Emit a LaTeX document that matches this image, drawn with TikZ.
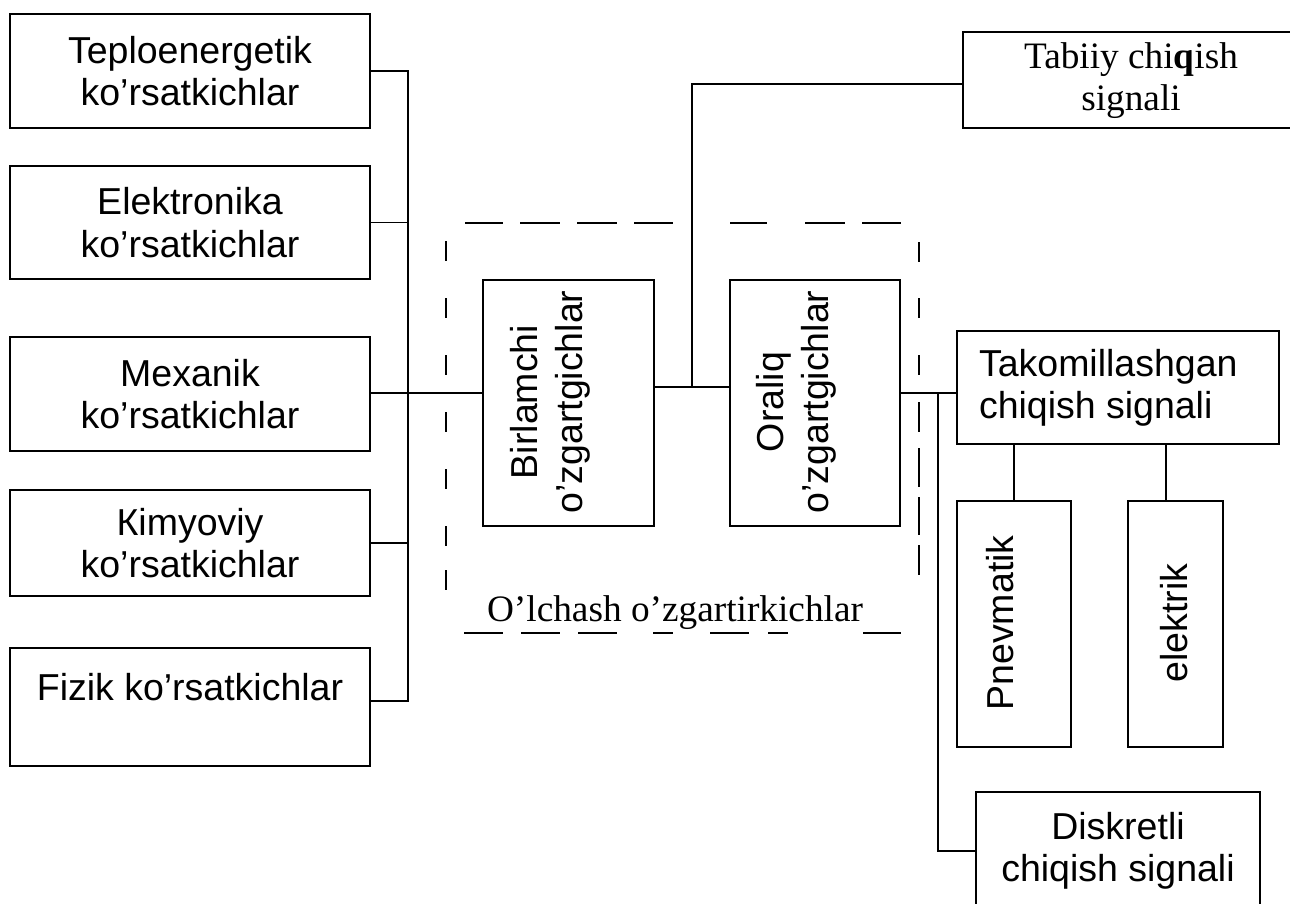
\documentclass[tikz,border=0pt]{standalone}
\usepackage{fontspec}
\setmainfont{Liberation Serif}
\setsansfont{Liberation Sans}
\begin{document}
\begin{tikzpicture}[x=1pt,y=-1pt,
  box/.style={draw,line width=2pt,inner sep=0pt,outer sep=0pt,align=center,font=\sffamily\fontsize{37.5}{42.5}\selectfont},
  stxt/.style={inner sep=0pt,outer sep=0pt,align=center,font=\sffamily\fontsize{37.5}{42.5}\selectfont},
  rtxt/.style={inner sep=0pt,outer sep=0pt,align=center,rotate=90,font=\sffamily\fontsize{37.5}{45}\selectfont},
  ttxt/.style={inner sep=0pt,outer sep=0pt,align=center,font=\rmfamily\fontsize{37.3}{42}\selectfont},
  wire/.style={line width=1.6pt},
  dsh/.style={line width=1.6pt}
]
\useasboundingbox (0,0) rectangle (1290,903);
\clip (0,0) rectangle (1290,903);

% left column
\node[box,minimum width=360pt,minimum height=114pt] (teplo) at (190,71) {Teploenergetik\\ko’rsatkichlar};
\node[box,minimum width=360pt,minimum height=113pt] (elek) at (190,222.5) {Elektronika\\ko’rsatkichlar};
\node[box,minimum width=360pt,minimum height=114pt] (mex) at (190,394) {Mexanik\\ko’rsatkichlar};
\node[box,minimum width=360pt,minimum height=106pt] (kim) at (190,543) {Кimyoviy\\ko’rsatkichlar};
\node[box,minimum width=360pt,minimum height=118pt] (fizik) at (190,707) {};
\node[stxt] (fiziktxt) at (190,687) {Fizik ko’rsatkichlar};

% converters
\node[box,minimum width=171pt,minimum height=246pt] (bir) at (568.5,403) {};
\node[rtxt] (birtxt) at (550,402) {Birlamchi\\o’zgartgichlar};
\node[box,minimum width=170pt,minimum height=246pt] (ora) at (815,403) {};
\node[rtxt] (oratxt) at (796,402) {Oraliq\\o’zgartgichlar};
\node[ttxt,anchor=base] (olch) at (675,621) {O’lchash o’zgartirkichlar};

% outputs
\node[box,minimum width=347pt,minimum height=96pt] (tab) at (1136.5,80) {};
\node[ttxt] (tabtxt) at (1131,81) {Tabiiy chi\textbf{q}ish\\signali};
\node[box,minimum width=322pt,minimum height=113pt] (tak) at (1118,387.5) {};
\node[stxt,align=left,anchor=west] (taktxt) at (979,388) {Takomillashgan\\chiqish signali};
\node[box,minimum width=114pt,minimum height=246pt] (pnev) at (1014,624) {};
\node[rtxt] (pnevtxt) at (1000,623) {Pnevmatik};
\node[box,minimum width=95pt,minimum height=246pt] (elk) at (1175.5,624) {};
\node[rtxt] (elktxt) at (1174,623) {elektrik};
\node[box,minimum width=284pt,minimum height=118pt] (disk) at (1118,851) {Diskretli\\chiqish signali};

% bus on the left
\coordinate (bustop) at (408,71);
\coordinate (busbot) at (408,701);
\draw[wire] (teplo.east) -- (bustop) -- (busbot) -- (busbot -| fizik.east);
\draw[wire] (elek.east) -- (elek.east -| bustop);
\draw[wire] (kim.east) -- (kim.east -| bustop);
\draw[wire] (mex.east |- 0,393) -- (bir.west |- 0,393);

% middle connections
\coordinate (tap) at (692,387);
\coordinate (tapup) at (692,84);
\draw[wire] (bir.east |- tap) -- (ora.west |- tap);
\draw[wire] (tap) -- (tapup) -- (tapup -| tab.west);
\coordinate (split) at (938,393);
\draw[wire] (ora.east |- split) -- (tak.west |- split);
\draw[wire] (split) |- (disk.west);
\draw[wire] (pnev.north) -- (pnev.north |- tak.south);
\coordinate (ec) at (1166,0);
\draw[wire] (elk.north -| ec) -- (tak.south -| ec);

% dashed frame
\foreach \a/\b in {465/503,520/560,577/617,634/673,730/767,805/845,862/901}
  \draw[dsh] (\a,223) -- (\b,223);
\foreach \a/\b in {464/503,521/560,578/617,653/673,710/749,768/788,863/901}
  \draw[dsh] (\a,633) -- (\b,633);
\foreach \a/\b in {241/261,298/318,355/375,412/432,469/489,526/546,570/590}
  \draw[dsh] (446,\a) -- (446,\b);
\foreach \a/\b in {242/262,298/318,355/375,402/432,448/487,497/535,545/575}
  \draw[dsh] (919,\a) -- (919,\b);
\end{tikzpicture}
\end{document}
